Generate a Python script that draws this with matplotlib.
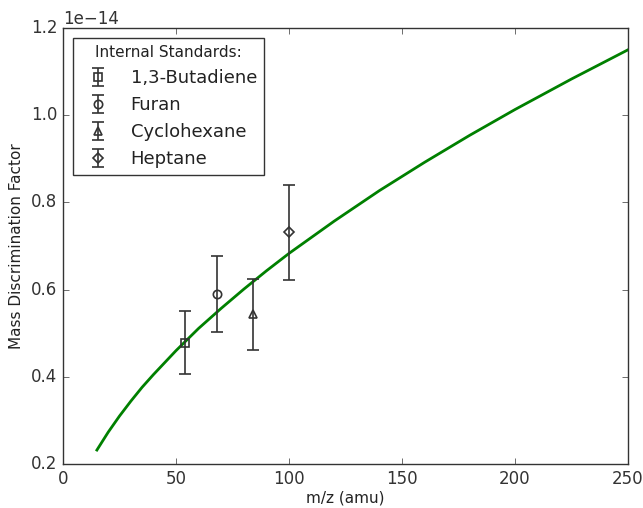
import matplotlib
matplotlib.use("Agg")
import matplotlib.pyplot as plt

plt.style.use("classic")
ink = "#333333"
plt.rcParams["text.color"] = "#222222"
plt.rcParams["axes.labelcolor"] = "#222222"
plt.rcParams["xtick.color"] = ink
plt.rcParams["ytick.color"] = ink
plt.rcParams["axes.edgecolor"] = ink

# fitted mass discrimination curve
curve_x = [15, 20, 25, 30, 35, 40, 50, 60, 70, 80, 90, 100, 120, 140, 160, 180, 200, 225, 250]
curve_y = [0.232, 0.273, 0.310, 0.344, 0.376, 0.405, 0.460, 0.511, 0.557, 0.601, 0.643,
           0.683, 0.757, 0.827, 0.892, 0.954, 1.013, 1.083, 1.150]

# internal standards
names = ["1,3-Butadiene", "Furan", "Cyclohexane", "Heptane"]
mz = [54, 68, 84, 100]
factor = [0.478, 0.590, 0.543, 0.731]
err = [0.072, 0.088, 0.081, 0.110]
markers = ["s", "o", "^", "D"]
sizes = [5.5, 6, 6, 5.5]

scale = 1e-14

fig = plt.figure(figsize=(6.43, 5.08), dpi=100)
fig.patch.set_facecolor("white")
ax = fig.add_axes([63 / 643, 44 / 508, 565 / 643, 436 / 508])

ax.plot(curve_x, [v * scale for v in curve_y], "g-", lw=2)

for n, x, y, e, m, s in zip(names, mz, factor, err, markers, sizes):
    ax.errorbar(x, y * scale, yerr=e * scale, fmt=m, mfc="none", mec=ink, mew=1.2,
                ecolor=ink, ms=s, capsize=4, elinewidth=1.2, capthick=1.2, label=n)

ax.set_xlim(0, 250)
ax.set_ylim(0.2e-14, 1.2e-14)
ax.set_yticks([v * scale for v in [0.2, 0.4, 0.6, 0.8, 1.0, 1.2]])
ax.set_xlabel("m/z (amu)", fontsize=11, labelpad=2)
ax.set_ylabel("Mass Discrimination Factor", fontsize=11)
ax.tick_params(labelsize=12)

leg = ax.legend(loc="upper left", numpoints=1, title="Internal Standards:",
                fontsize=13, borderaxespad=0.55, handletextpad=0.8)
leg.get_title().set_fontsize(11)
leg.get_frame().set_edgecolor(ink)

fig.savefig("out.png", dpi=100, facecolor="white")
